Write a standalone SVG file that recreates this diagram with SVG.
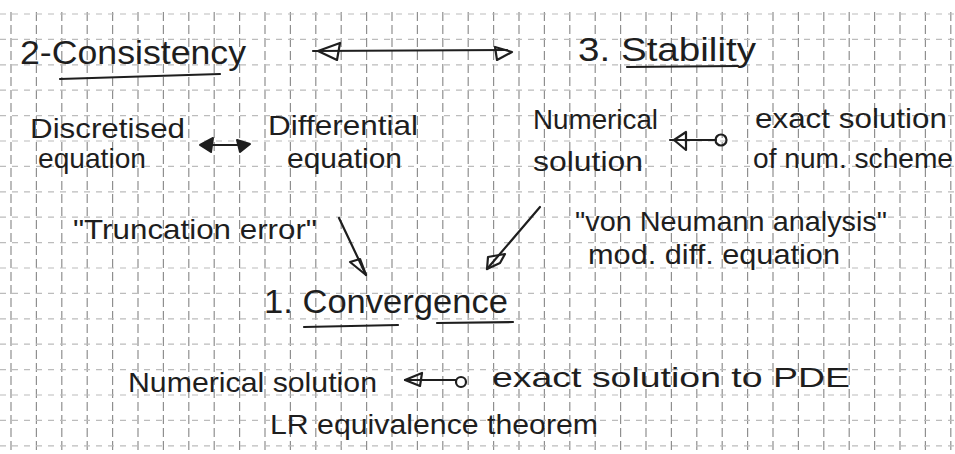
<svg xmlns="http://www.w3.org/2000/svg" width="955" height="454" viewBox="0 0 955 454">
  <defs>
    <style>
      .vg { stroke: #8f8f8f; stroke-width: 1.2; stroke-dasharray: 9 4; fill: none; }
      .hg { stroke: #bcbcbc; stroke-width: 1.2; stroke-dasharray: 6 6; fill: none; }
      .t { font-family: "Liberation Sans", Arial, sans-serif; fill: #1e1e1e; }
      .h { font-size: 33px; }
      .m { font-size: 28px; }
      .ink { stroke: #1e1e1e; stroke-width: 2.2; fill: none; stroke-linecap: round; stroke-linejoin: round; }
      .inkf { stroke: #1e1e1e; stroke-width: 2; fill: #1e1e1e; stroke-linejoin: round; }
    </style>
  </defs>
  <rect width="955" height="454" fill="#ffffff"/>
  <g id="grid">
    <path class="vg" d="M11 12V454M36.4 12V454M61.8 12V454M87.2 12V454M112.6 12V454M138 12V454M163.4 12V454M188.8 12V454M214.2 12V454M239.6 12V454M265 12V454M290.4 12V454M315.8 12V454M341.2 12V454M366.6 12V454M392 12V454M417.4 12V454M442.8 12V454M468.2 12V454M493.6 12V454M519 12V454M544.4 12V454M569.8 12V454M595.2 12V454M620.6 12V454M646 12V454M671.4 12V454M696.8 12V454M722.2 12V454M747.6 12V454M773 12V454M798.4 12V454M823.8 12V454M849.2 12V454M874.6 12V454M900 12V454M925.4 12V454M950.8 12V454"/>
    <path class="hg" d="M0 14H955M0 39.4H955M0 64.8H955M0 90.2H955M0 115.6H955M0 141H955M0 166.4H955M0 191.8H955M0 217.2H955M0 242.6H955M0 268H955M0 293.4H955M0 318.8H955M0 344.2H955M0 369.6H955M0 395H955M0 420.4H955M0 445.8H955"/>
  </g>
  <g id="consistency">
    <text class="t h" x="20" y="64" textLength="226" lengthAdjust="spacingAndGlyphs">2-Consistency</text>
    <path class="ink" d="M60 79L220 74"/>
  </g>
  <g id="stability">
    <text class="t h" x="578" y="61" textLength="178" lengthAdjust="spacingAndGlyphs">3. Stability</text>
    <path class="ink" d="M627 67L738 66"/>
  </g>
  <g id="discretised">
    <text class="t m" x="30" y="138" textLength="155" lengthAdjust="spacingAndGlyphs">Discretised</text>
    <text class="t m" x="38" y="168" textLength="108" lengthAdjust="spacingAndGlyphs">equation</text>
  </g>
  <g id="differential">
    <text class="t m" x="268" y="135" textLength="150" lengthAdjust="spacingAndGlyphs">Differential</text>
    <text class="t m" x="287" y="168" textLength="115" lengthAdjust="spacingAndGlyphs">equation</text>
  </g>
  <g id="numerical">
    <text class="t m" x="533" y="129" textLength="125" lengthAdjust="spacingAndGlyphs">Numerical</text>
    <text class="t m" x="533" y="171" textLength="110" lengthAdjust="spacingAndGlyphs">solution</text>
  </g>
  <g id="exact-num">
    <text class="t m" x="755" y="128" textLength="192" lengthAdjust="spacingAndGlyphs">exact solution</text>
    <text class="t m" x="753" y="168" textLength="200" lengthAdjust="spacingAndGlyphs">of num. scheme</text>
  </g>
  <g id="truncation">
    <text class="t m" x="73" y="239" textLength="244" lengthAdjust="spacingAndGlyphs">"Truncation error"</text>
  </g>
  <g id="vonneumann">
    <text class="t m" x="575" y="231" textLength="312" lengthAdjust="spacingAndGlyphs">"von Neumann analysis"</text>
    <text class="t m" x="588" y="264" textLength="252" lengthAdjust="spacingAndGlyphs">mod. diff. equation</text>
  </g>
  <g id="convergence">
    <text class="t h" x="264" y="313" textLength="244" lengthAdjust="spacingAndGlyphs">1. Convergence</text>
    <path class="ink" d="M304 327L398 325M437 323L513 322"/>
  </g>
  <g id="num-sol">
    <text class="t m" x="128" y="392" textLength="249" lengthAdjust="spacingAndGlyphs">Numerical solution</text>
  </g>
  <g id="exact-pde">
    <text class="t m" x="492" y="387" textLength="358" lengthAdjust="spacingAndGlyphs">exact solution to PDE</text>
  </g>
  <g id="lr">
    <text class="t m" x="270" y="434" textLength="328" lengthAdjust="spacingAndGlyphs">LR equivalence theorem</text>
  </g>
  <g id="connectors">
    <path class="ink" d="M313 51L507 50"/>
    <path class="ink" d="M318 51L340 43L337 60Z"/>
    <path class="ink" d="M512 52L495 47L497 60Z"/>
    <path class="ink" d="M203 145L247 145"/>
    <path class="inkf" d="M200 145L213 138L211 152Z"/>
    <path class="inkf" d="M250 144L237 140L240 152Z"/>
    <path class="ink" d="M670 140L716 140"/>
    <path class="ink" d="M674 140L686 132L686 150Z"/>
    <circle class="ink" cx="721" cy="140" r="5.5"/>
    <path class="ink" d="M339 218L366 275"/>
    <path class="ink" d="M350 262L360 259L366 275Z"/>
    <path class="ink" d="M540 207L487 269"/>
    <path class="ink" d="M488 257L505 254L500 263L487 269Z"/>
    <path class="ink" d="M405 380L456 380"/>
    <path class="ink" d="M405 380L422 373L420 386Z"/>
    <circle class="ink" cx="461" cy="382" r="5"/>
  </g>
</svg>
